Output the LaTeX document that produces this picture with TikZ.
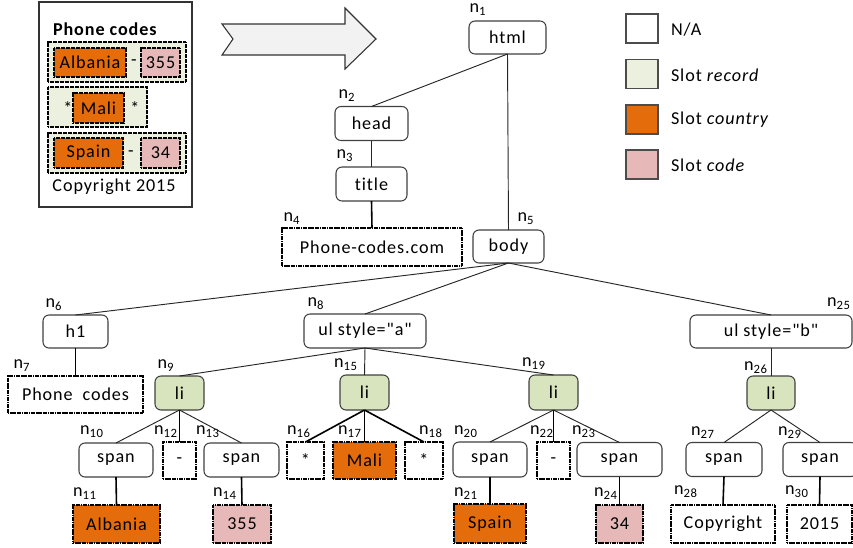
\documentclass[tikz,border=0pt]{standalone}
\usepackage{fontspec}
\setmainfont{Carlito}[LetterSpace=5, Ligatures={NoCommon, TeXOff}]
\definecolor{slotcountry}{HTML}{E46C0A}
\definecolor{slotcode}{HTML}{E6B9B8}
\definecolor{slotrecord}{HTML}{EBF1DE}
\definecolor{litag}{HTML}{D7E4BD}
\definecolor{arrowgray}{HTML}{F2F2F2}
\tikzset{
  px/.style 2 args={minimum width={#1*0.75pt}, minimum height={#2*0.75pt}},
  base/.style={inner sep=0pt, outer sep=0pt, font=\fontsize{13.6}{15}\selectfont},
  tag/.style={base, draw=black!75, line width=0.8pt, rounded corners=4.5pt, fill=white},
  litagbox/.style={tag, fill=litag},
  leaf/.style={base, draw=black, line width=1.6pt, dash pattern=on 1pt off 0.3pt, fill=white},
  recbox/.style={base, draw=black, line width=0.9pt, dash pattern=on 0.9pt off 0.35pt, fill=slotrecord},
  inbox/.style={base, draw=black, line width=0.9pt, dash pattern=on 0.9pt off 0.35pt},
  lbl/.style={base},
  plain/.style={base},
  legsq/.style={base, draw=black!70, line width=1pt, px={32}{29}},
  link/.style={draw=black!85, line width=0.7pt},
  leaflink/.style={draw=black, line width=1.2pt},
}
\begin{document}
\begin{tikzpicture}[x=0.75pt, y=-0.75pt]
\useasboundingbox (0,0) rectangle (853,547);

% ---- rendered page ----
\node[base, draw=black!80, line width=0.8pt, px={153}{205}] (page) at (115.5,104.5) {};
\node[plain, font=\fontsize{13.6}{15}\selectfont\bfseries, anchor=west] (ptitle) at (53,29) {Phone codes};
\node[recbox, px={138}{40}] (rec1) at (117,62) {};
\node[inbox, fill=slotcountry, px={72}{29}] (alb) at (90,62.5) {Albania};
\node[plain] (dash1) at (134,62.5) {-};
\node[inbox, fill=slotcode, px={39}{29}] (c355) at (160.5,62.5) {355};
\node[recbox, px={99}{40}] (rec2) at (97.5,107) {};
\node[plain] (ast1) at (68,108) {*};
\node[inbox, fill=slotcountry, px={51}{30}] (mali) at (98.5,108) {Mali};
\node[plain] (ast2) at (135,108) {*};
\node[recbox, px={138}{40}] (rec3) at (117,153) {};
\node[inbox, fill=slotcountry, px={69}{30}] (spa) at (88.5,153) {Spain};
\node[plain] (dash2) at (131,153.5) {-};
\node[inbox, fill=slotcode, px={39}{30}] (c34) at (160.5,153) {34};
\node[plain] (copy) at (114,187) {Copyright 2015};

% ---- block arrow ----
\draw[draw=black!80, line width=0.8pt, fill=arrowgray]
  (222,24) -- (345,24) -- (345,8) -- (376,39) -- (345,69) -- (345,55)
  -- (222,55) -- (233,39) -- cycle;

% ---- legend ----
\node[legsq, fill=white] (lg1) at (642,28.5) {};
\node[legsq, fill=slotrecord] (lg2) at (642,74) {};
\node[legsq, fill=slotcountry] (lg3) at (642,119.5) {};
\node[legsq, fill=slotcode] (lg4) at (642,164.5) {};
\node[plain, anchor=west] (lt1) at (671,30) {N/A};
\node[plain, anchor=west] (lt2) at (671,75) {Slot \textit{record}};
\node[plain, anchor=west] (lt3) at (671,120) {Slot \textit{country}};
\node[plain, anchor=west] (lt4) at (671,165) {Slot \textit{code}};

% ---- DOM tree ----
\node[tag, px={77}{33}] (n1) at (507.5,37.5) {html};
\node[tag, px={73}{34}] (n2) at (371.5,123.5) {head};
\node[tag, px={71}{34}] (n3) at (371.5,184) {title};
\node[leaf, px={180}{38}] (n4) at (372,247) {Phone-codes.com};
\node[tag, px={71}{33}] (n5) at (508.5,246.5) {body};
\node[tag, px={65}{33}] (n6) at (75.5,331.5) {h1};
\node[leaf, px={135}{37}] (n7) at (75.5,394.5) {Phone\ \ codes};
\node[tag, px={122}{34}] (n8) at (365,331) {ul style="a"};
\node[litagbox, px={49}{34}] (n9) at (179.5,393) {li};
\node[tag, px={74}{34}] (n10) at (116,460) {span};
\node[leaf, fill=slotcountry, px={87}{38}] (n11) at (116.5,524) {Albania};
\node[leaf, px={33}{37}] (n12) at (179.5,460.5) {-};
\node[tag, px={75}{34}] (n13) at (241.5,460) {span};
\node[leaf, fill=slotcode, px={58}{38}] (n14) at (242,524) {355};
\node[litagbox, px={49}{35}] (n15) at (364.5,392.5) {li};
\node[leaf, px={37}{37}] (n16) at (305.5,460.5) {*};
\node[leaf, fill=slotcountry, px={63}{37}] (n17) at (364.5,460.5) {Mali};
\node[leaf, px={38}{37}] (n18) at (424,460.5) {*};
\node[litagbox, px={49}{35}] (n19) at (553.5,392.5) {li};
\node[tag, px={74}{35}] (n20) at (490,459.5) {span};
\node[leaf, fill=slotcountry, px={72}{39}] (n21) at (490,523.5) {Spain};
\node[leaf, px={33}{37}] (n22) at (553.5,460.5) {-};
\node[tag, px={85}{34}] (n23) at (619.5,459.5) {span};
\node[leaf, fill=slotcode, px={47}{38}] (n24) at (619.5,524) {34};
\node[tag, px={162}{33}] (n25) at (771,331.5) {ul style="b"};
\node[litagbox, px={48}{34}] (n26) at (771,393) {li};
\node[tag, px={76}{34}] (n27) at (724,459.5) {span};
\node[leaf, px={104}{38}] (n28) at (723,524) {Copyright};
\node[tag, px={74}{34}] (n29) at (820,459.5) {span};
\node[leaf, px={65}{38}] (n30) at (819.5,524) {2015};

% ---- node labels ----
\node[lbl] (l1) at (478,10) {n\textsubscript{1}};
\node[lbl] (l2) at (347,96) {n\textsubscript{2}};
\node[lbl] (l3) at (345,156) {n\textsubscript{3}};
\node[lbl] (l4) at (292,219) {n\textsubscript{4}};
\node[lbl] (l5) at (526,219) {n\textsubscript{5}};
\node[lbl] (l6) at (54,305) {n\textsubscript{6}};
\node[lbl] (l7) at (22,366) {n\textsubscript{7}};
\node[lbl] (l8) at (316,304) {n\textsubscript{8}};
\node[lbl] (l9) at (166,366) {n\textsubscript{9}};
\node[lbl] (l10) at (92,432) {n\textsubscript{10}};
\node[lbl] (l11) at (85,494) {n\textsubscript{11}};
\node[lbl] (l12) at (166,432) {n\textsubscript{12}};
\node[lbl] (l13) at (208,432) {n\textsubscript{13}};
\node[lbl] (l14) at (225,494) {n\textsubscript{14}};
\node[lbl] (l15) at (346,365) {n\textsubscript{15}};
\node[lbl] (l16) at (299,432) {n\textsubscript{16}};
\node[lbl] (l17) at (350,432) {n\textsubscript{17}};
\node[lbl] (l18) at (431,432) {n\textsubscript{18}};
\node[lbl] (l19) at (534,364) {n\textsubscript{19}};
\node[lbl] (l20) at (466,432) {n\textsubscript{20}};
\node[lbl] (l21) at (466,494) {n\textsubscript{21}};
\node[lbl] (l22) at (542,432) {n\textsubscript{22}};
\node[lbl] (l23) at (584,432) {n\textsubscript{23}};
\node[lbl] (l24) at (606,494) {n\textsubscript{24}};
\node[lbl] (l25) at (839,304) {n\textsubscript{25}};
\node[lbl] (l26) at (756,368) {n\textsubscript{26}};
\node[lbl] (l27) at (703,433) {n\textsubscript{27}};
\node[lbl] (l28) at (686,492) {n\textsubscript{28}};
\node[lbl] (l29) at (790,433) {n\textsubscript{29}};
\node[lbl] (l30) at (797,492) {n\textsubscript{30}};

% ---- tree edges ----
\draw[link] (n1.south) -- (n2.north);
\draw[link] (n1.south) -- (n5.north);
\draw[link] (n2.south) -- (n3.north);
\draw[leaflink] (n3.south) -- (n4.north);
\draw[link] (n5.south) -- (n6.north);
\draw[link] (n5.south) -- (n8.north);
\draw[link] (n5.south) -- (n25.north);
\draw[leaflink] (n6.south) -- (n7.north);
\draw[link] (n8.south) -- (n9.north);
\draw[link] (n8.south) -- (n15.north);
\draw[link] (n8.south) -- (n19.north);
\draw[link] (n9.south) -- (n10.north);
\draw[leaflink] (n9.south) -- (n12.north);
\draw[link] (n9.south) -- (n13.north);
\draw[leaflink] (n10.south) -- (n11.north);
\draw[leaflink] (n13.south) -- (n14.north);
\draw[leaflink] (n15.south) -- (n16.north);
\draw[leaflink] (n15.south) -- (n17.north);
\draw[leaflink] (n15.south) -- (n18.north);
\draw[link] (n19.south) -- (n20.north);
\draw[leaflink] (n19.south) -- (n22.north);
\draw[link] (n19.south) -- (n23.north);
\draw[leaflink] (n20.south) -- (n21.north);
\draw[leaflink] (n23.south) -- (n24.north);
\draw[link] (n25.south) -- (n26.north);
\draw[link] (n26.south) -- (n27.north);
\draw[link] (n26.south) -- (n29.north);
\draw[leaflink] (n27.south) -- (n28.north);
\draw[leaflink] (n29.south) -- (n30.north);
\end{tikzpicture}
\end{document}
